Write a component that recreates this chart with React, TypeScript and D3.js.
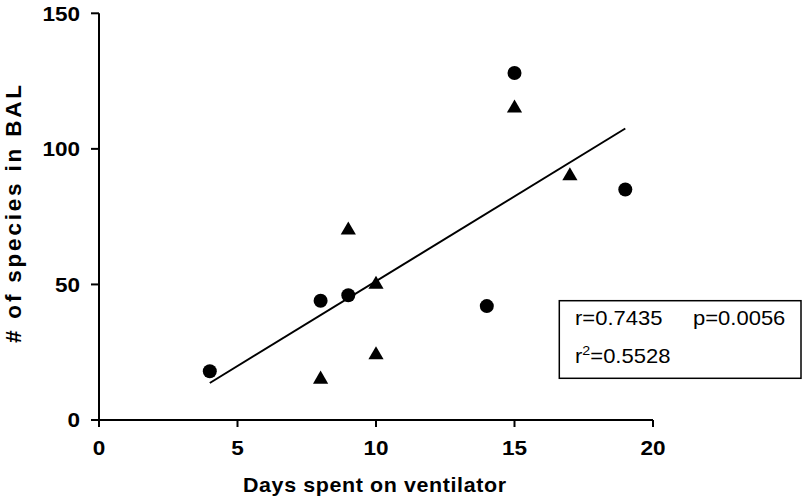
import React from "react";
import * as d3 from "d3";

const circleX = [4, 8, 9, 14, 15, 19];
const circleY = [18, 44, 46, 42, 128, 85];
const triangleX = [8, 9, 10, 10, 15, 17];
const triangleY = [15, 70, 50, 24, 115, 90];
const xTicks = [0, 5, 10, 15, 20];
const yTicks = [0, 50, 100, 150];
const statsLine1a = "r=0.7435";
const statsLine1b = "p=0.0056";
const statsR2 = "=0.5528";
const xTitle = "Days spent on ventilator";
const yTitle = "# of species in BAL";

const SX = 1.1;

function SText(props: { x: number; y: number; anchor?: string; size: number; bold?: boolean; dy?: string; children: React.ReactNode; textLength?: number }) {
  const { x, y, anchor, size, bold, dy, children, textLength } = props;
  return (
    <text
      transform={`translate(${x},${y}) scale(${SX},1)`}
      dy={dy}
      textAnchor={anchor || "start"}
      fontSize={size}
      fontWeight={bold ? "bold" : "normal"}
      textLength={textLength}
      lengthAdjust={textLength ? "spacing" : undefined}
    >
      {children}
    </text>
  );
}

export default function App() {
  const W = 805, H = 497;
  const x = d3.scaleLinear().domain([0, 20]).range([99, 653]);
  const y = d3.scaleLinear().domain([0, 150]).range([420, 13.3]);

  const allX = [...circleX, ...triangleX];
  const allY = [...circleY, ...triangleY];
  const mx = d3.mean(allX)!;
  const my = d3.mean(allY)!;
  const sxx = d3.sum(allX, (v) => (v - mx) * (v - mx));
  const sxy = d3.sum(allX.map((v, i) => (v - mx) * (allY[i] - my)));
  const slope = sxy / sxx;
  const icpt = my - slope * mx;
  const x0 = d3.min(allX)!, x1 = d3.max(allX)!;
  const line = d3.line<number>().x((v) => x(v)).y((v) => y(icpt + slope * v));
  const tri = d3.symbol().type(d3.symbolTriangle).size(100)();
  const font = "'Liberation Sans', Arial, Helvetica, sans-serif";

  return (
    <svg width={W} height={H} style={{ position: "absolute", left: 0, top: 0, background: "#fff" }}>
      <g fontFamily={font} fill="#000">
        {/* axes */}
        <line x1={x(0)} x2={x(0)} y1={y(150)} y2={y(0)} stroke="#000" strokeWidth={2} />
        <line x1={x(0) - 8} x2={x(20)} y1={y(0)} y2={y(0)} stroke="#000" strokeWidth={2} />
        {yTicks.map((t) => (
          <g key={"y" + t}>
            <line x1={x(0) - 8} x2={x(0)} y1={y(t)} y2={y(t)} stroke="#000" strokeWidth={2} />
            <SText x={80} y={y(t)} dy="0.36em" anchor="end" size={20.5} bold>{t}</SText>
          </g>
        ))}
        {xTicks.map((t) => (
          <g key={"x" + t}>
            <line x1={x(t)} x2={x(t)} y1={y(0)} y2={y(0) + 7} stroke="#000" strokeWidth={2} />
            <SText x={x(t)} y={455} anchor="middle" size={20.5} bold>{t}</SText>
          </g>
        ))}
        <SText x={243} y={492} size={19.5} bold textLength={263 / SX}>{xTitle}</SText>
        <text transform="translate(21,343) rotate(-90)" x={0} y={0} fontSize={22.5} fontWeight="bold" textLength={258} lengthAdjust="spacing">{yTitle}</text>

        {/* regression */}
        <path d={line([x0, x1]) || ""} fill="none" stroke="#000" strokeWidth={2} />

        {/* points */}
        {circleX.map((v, i) => (
          <circle key={"c" + i} cx={x(v)} cy={y(circleY[i])} r={7} fill="#000" />
        ))}
        {triangleX.map((v, i) => (
          <path key={"t" + i} d={tri || ""} transform={`translate(${x(v)},${y(triangleY[i])})`} fill="#000" />
        ))}

        {/* stats box */}
        <rect x={559.3} y={300.7} width={241.7} height={77.6} fill="#fff" stroke="#000" strokeWidth={1.5} />
        <SText x={575} y={325} size={20}>{statsLine1a}</SText>
        <SText x={693} y={325} size={20}>{statsLine1b}</SText>
        <SText x={575} y={363} size={20}>
          r<tspan dy={-8} fontSize={13}>2</tspan><tspan dy={8}>{statsR2}</tspan>
        </SText>
      </g>
    </svg>
  );
}
